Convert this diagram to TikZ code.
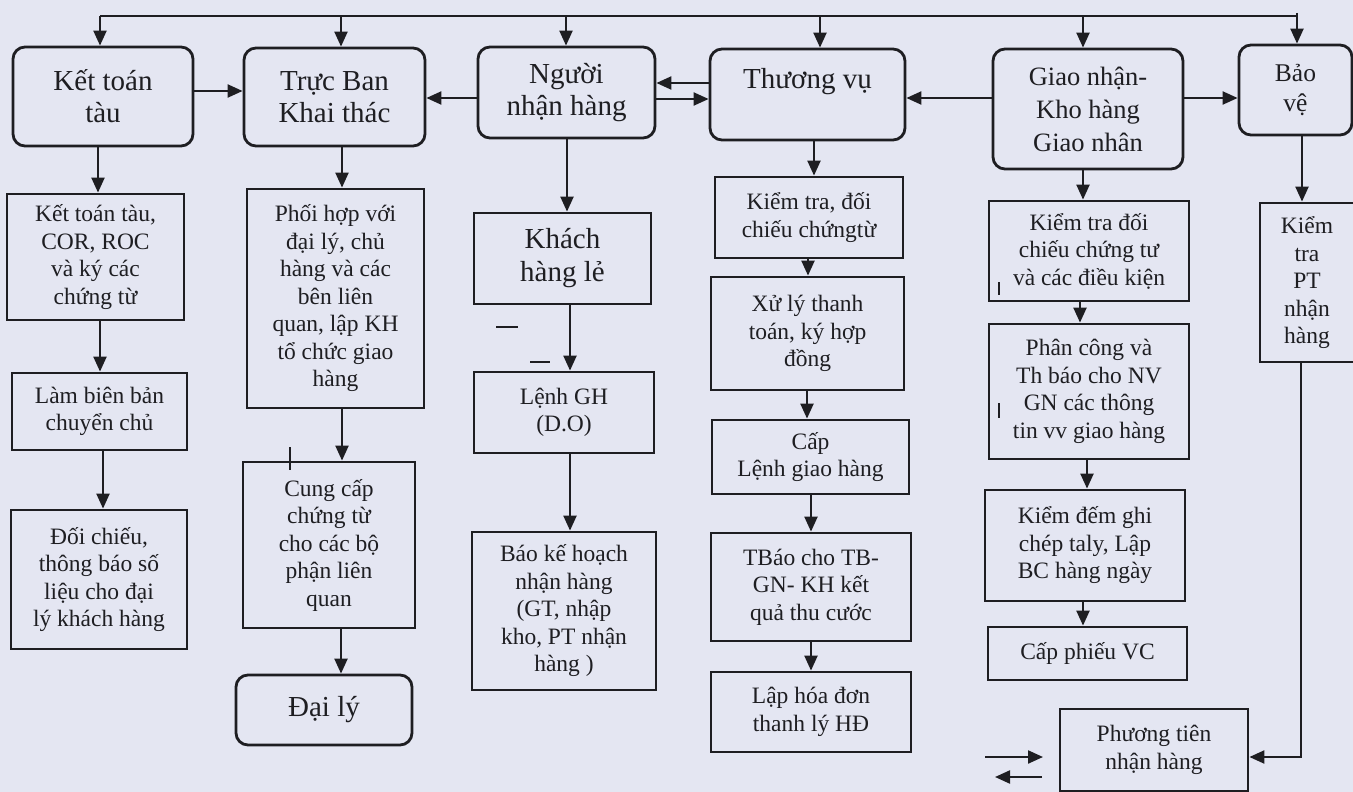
\documentclass[tikz,border=0pt]{standalone}
\usepackage{fontspec}
\setmainfont{Liberation Serif}
\usetikzlibrary{arrows.meta}
\definecolor{bgc}{RGB}{228,230,242}
\definecolor{ink}{RGB}{30,30,34}
\tikzset{
  x=1pt, y=-1pt,
  box/.style={draw=ink, line width=2.8pt, text=ink, align=center, inner sep=0pt},
  rbox/.style={box, rounded corners=12pt},
  bigt/.style={font=\fontsize{29}{32}\selectfont},
  midt/.style={font=\fontsize{26.5}{33}\selectfont},
  smallt/.style={font=\fontsize{23.5}{27.5}\selectfont},
  arr/.style={draw=ink, line width=2.2pt, -{Triangle[length=15pt,width=13pt]}},
  ln/.style={draw=ink, line width=2.2pt},
  stray/.style={draw=ink, line width=1.6pt}
}
\begin{document}
\begin{tikzpicture}
\fill[bgc] (0,0) rectangle (1353,792);
\useasboundingbox (0,0) rectangle (1353,792);

% top row
\node[rbox,bigt,minimum width=180pt,minimum height=99pt] (kt) at (103,96.5) {Kết toán\\tàu};
\node[rbox,bigt,minimum width=181pt,minimum height=98pt] (tb) at (334.5,97) {Trực Ban\\Khai thác};
\node[rbox,bigt,minimum width=177pt,minimum height=91pt] (nn) at (566.5,92.5) {Người\\nhận hàng};
\node[rbox,bigt,minimum width=195pt,minimum height=91pt] (tv) at (807.5,94.5) {Thương vụ\\\mbox{}};
\node[rbox,midt,minimum width=190pt,minimum height=120pt] (gn) at (1088,109) {Giao nhận-\\Kho hàng\\Giao nhân};
\node[rbox,font=\fontsize{25.5}{30}\selectfont,minimum width=113pt,minimum height=90pt] (bv) at (1295.5,90) {Bảo\\vệ};

% column 1
\node[box,smallt,minimum width=177pt,minimum height=126pt] (c1a) at (95.5,257) {Kết toán tàu,\\COR, ROC\\và ký các\\chứng từ};
\node[box,smallt,minimum width=175pt,minimum height=77pt] (c1b) at (99.5,411.5) {Làm biên bản\\chuyển chủ};
\node[box,smallt,minimum width=176pt,minimum height=139pt] (c1c) at (99,579.5) {Đối chiếu,\\thông báo số\\liệu cho đại\\lý khách hàng};

% column 2
\node[box,smallt,minimum width=177pt,minimum height=219pt] (c2a) at (335.5,298.5) {Phối hợp với\\đại lý, chủ\\hàng và các\\bên liên\\quan, lập KH\\tổ chức giao\\hàng};
\node[box,smallt,minimum width=172pt,minimum height=166pt] (c2b) at (329,545) {Cung cấp\\chứng từ\\cho các bộ\\phận liên\\quan};
\node[rbox,bigt,minimum width=176pt,minimum height=70pt] (c2c) at (324,710) {Đại lý};

% column 3
\node[box,font=\fontsize{29}{33}\selectfont,minimum width=177pt,minimum height=91pt] (c3a) at (562.5,258.5) {Khách\\hàng lẻ};
\node[box,smallt,minimum width=180pt,minimum height=81pt] (c3b) at (564,412.5) {Lệnh GH\\(D.O)};
\node[box,smallt,minimum width=184pt,minimum height=158pt] (c3c) at (564,611) {Báo kế hoạch\\nhận hàng\\(GT, nhập\\kho, PT nhận\\hàng )};

% column 4
\node[box,smallt,minimum width=188pt,minimum height=81pt] (c4a) at (809,217.5) {Kiểm tra, đối\\chiếu chứngtừ};
\node[box,smallt,minimum width=193pt,minimum height=113pt] (c4b) at (807.5,333.5) {Xử lý thanh\\toán, ký hợp\\đồng};
\node[box,smallt,minimum width=197pt,minimum height=74pt] (c4c) at (810.5,457) {Cấp\\Lệnh giao hàng};
\node[box,smallt,minimum width=200pt,minimum height=108pt] (c4d) at (811,587) {TBáo cho TB-\\GN- KH kết\\quả thu cước};
\node[box,smallt,minimum width=200pt,minimum height=80pt] (c4e) at (811,712) {Lập hóa đơn\\thanh lý HĐ};

% column 5
\node[box,smallt,minimum width=200pt,minimum height=100pt] (c5a) at (1089,251) {Kiểm tra đối\\chiếu chứng tư\\và các điều kiện};
\node[box,smallt,minimum width=200pt,minimum height=135pt] (c5b) at (1089,391.5) {Phân công và\\Th báo cho NV\\GN các thông\\tin vv giao hàng};
\node[box,smallt,minimum width=200pt,minimum height=111pt] (c5c) at (1085,545.5) {Kiểm đếm ghi\\chép taly, Lập\\BC hàng ngày};
\node[box,smallt,minimum width=199pt,minimum height=53pt] (c5d) at (1087.5,653.5) {Cấp phiếu VC};
\node[box,smallt,minimum width=188pt,minimum height=82pt] (c5e) at (1154,750) {Phương tiên\\nhận hàng};

% column 6
\node[box,minimum width=96pt,minimum height=159pt] (c6a) at (1308,282.5) {};
\node[smallt,text=ink,align=center] (c6t) at (1307,283) {Kiểm\\tra\\PT\\nhận\\hàng};

% top bus
\coordinate (b1) at (100,16);
\coordinate (b2) at (341,16);
\coordinate (b3) at (566,16);
\coordinate (b4) at (820,16);
\coordinate (b5) at (1083,16);
\coordinate (b6) at (1297,16);
\draw[ln] (b1) -- (b6);
\draw[arr] (b1) -- (b1 |- kt.north);
\draw[arr] (b2) -- (b2 |- tb.north);
\draw[arr] (b3) -- (b3 |- nn.north);
\draw[arr] (b4) -- (b4 |- tv.north);
\draw[arr] (b5) -- (b5 |- gn.north);
\draw[arr] ([yshift=3pt]b6) -- (b6 |- bv.north);

% horizontal arrows top row
\draw[arr] (kt.east |- 0,91) -- (tb.west |- 0,91);
\draw[arr] (nn.west |- 0,98) -- (tb.east |- 0,98);
\draw[arr] (tv.west |- 0,83) -- (nn.east |- 0,83);
\draw[arr] (nn.east |- 0,99) -- (tv.west |- 0,99);
\draw[arr] (gn.west |- 0,98) -- (tv.east |- 0,98);
\draw[arr] (gn.east |- 0,98) -- (bv.west |- 0,98);

% column 1 arrows
\draw[arr] (kt.south -| 98,0) -- (c1a.north -| 98,0);
\draw[arr] (c1a.south -| 100,0) -- (c1b.north -| 100,0);
\draw[arr] (c1b.south -| 103,0) -- (c1c.north -| 103,0);

% column 2 arrows
\draw[arr] (tb.south -| 342,0) -- (c2a.north -| 342,0);
\draw[arr] (c2a.south -| 342,0) -- (c2b.north -| 342,0);
\draw[arr] (c2b.south -| 341,0) -- (c2c.north -| 341,0);

% column 3 arrows
\draw[arr] (nn.south -| 567,0) -- (c3a.north -| 567,0);
\draw[arr] (c3a.south -| 570,0) -- (c3b.north -| 570,0);
\draw[arr] (c3b.south -| 570,0) -- (c3c.north -| 570,0);

% column 4 arrows
\draw[arr] (tv.south -| 814,0) -- (c4a.north -| 814,0);
\draw[arr] (c4a.south -| 808,0) -- (c4b.north -| 808,0);
\draw[arr] (c4b.south -| 807,0) -- (c4c.north -| 807,0);
\draw[arr] (c4c.south -| 811,0) -- (c4d.north -| 811,0);
\draw[arr] (c4d.south -| 811,0) -- (c4e.north -| 811,0);

% column 5 arrows
\draw[arr] (gn.south -| 1083,0) -- (c5a.north -| 1083,0);
\draw[arr] (c5a.south -| 1080,0) -- (c5b.north -| 1080,0);
\draw[arr] (c5b.south -| 1087,0) -- (c5c.north -| 1087,0);
\draw[arr] (c5c.south -| 1083,0) -- (c5d.north -| 1083,0);

% column 6 arrows
\draw[arr] (bv.south -| 1302,0) -- (c6a.north -| 1302,0);
\coordinate (corner) at (1301,757);
\draw[arr] (c6a.south -| corner) -- (corner) -- (c5e.east |- corner);

% free arrows left of Phuong tien
\coordinate (p1) at (985,757);
\coordinate (p2) at (1043,757);
\coordinate (p3) at (1042,777);
\coordinate (p4) at (995,777);
\draw[arr] (p1) -- (p2);
\draw[arr] (p3) -- (p4);

% small stray marks
\draw[stray] (290,447) -- (290,470);
\draw[stray] (496,327) -- (518,327);
\draw[stray] (530,362) -- (550,362);
\draw[stray] (999,282) -- (999,295);
\draw[stray] (999,403) -- (999,418);
\end{tikzpicture}
\end{document}
